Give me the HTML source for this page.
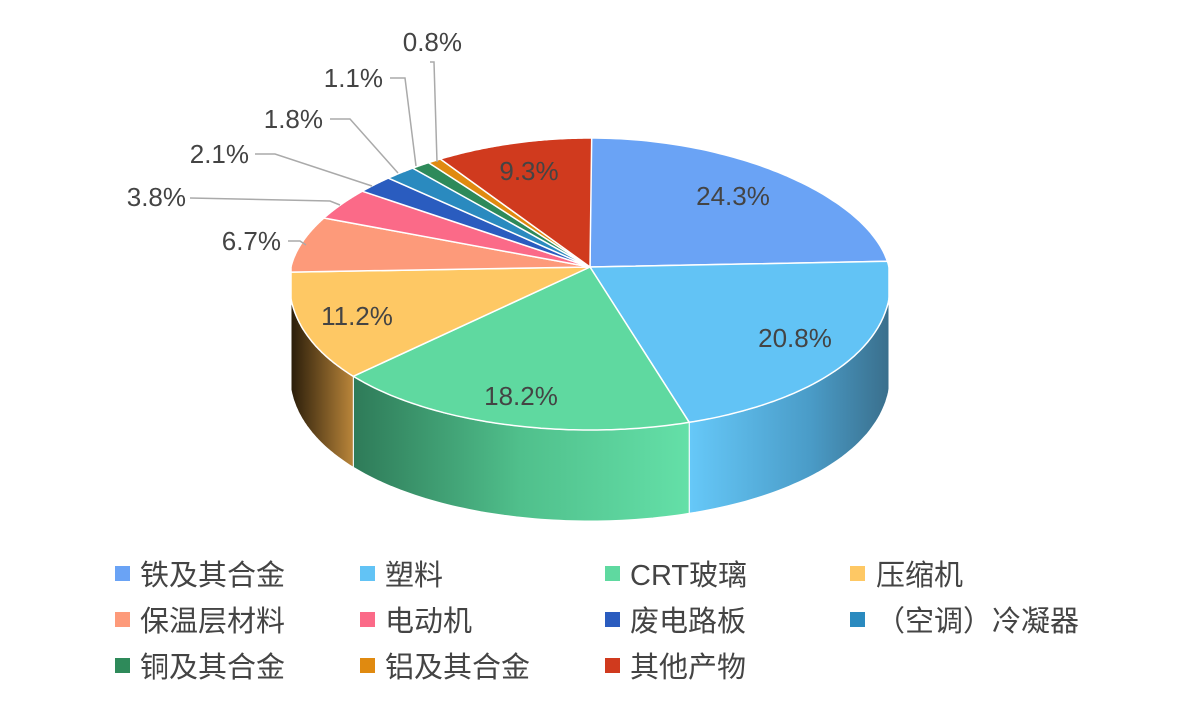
<!DOCTYPE html>
<html><head><meta charset="utf-8">
<style>
html,body{margin:0;padding:0;background:#fff;}
body{width:1182px;height:709px;overflow:hidden;font-family:"Liberation Sans","Noto Sans CJK SC",sans-serif;}
svg text{font-family:"Liberation Sans","Noto Sans CJK SC",sans-serif;}
</style></head><body>
<svg id="s" width="1182" height="709" viewBox="0 0 1182 709" xmlns="http://www.w3.org/2000/svg">
<defs>
<linearGradient id="gb" gradientUnits="userSpaceOnUse" x1="690" y1="0" x2="889" y2="0"><stop offset="0" stop-color="#66c8f8"/><stop offset="0.6" stop-color="#4a9cc8"/><stop offset="1" stop-color="#3a6f8c"/></linearGradient>
<linearGradient id="gg" gradientUnits="userSpaceOnUse" x1="352" y1="0" x2="690" y2="0"><stop offset="0" stop-color="#2e7a58"/><stop offset="0.5" stop-color="#50c08c"/><stop offset="1" stop-color="#64e0a8"/></linearGradient>
<linearGradient id="gy" gradientUnits="userSpaceOnUse" x1="291" y1="0" x2="356" y2="0"><stop offset="0" stop-color="#2a1d0a"/><stop offset="1" stop-color="#c08a3c"/></linearGradient>
</defs>
<g id="pie"></g>
<g fill="#444" font-size="26" text-anchor="middle">
<text x="733" y="205">24.3%</text>
<text x="795" y="347">20.8%</text>
<text x="521" y="405">18.2%</text>
<text x="357" y="325">11.2%</text>
<text x="529" y="180">9.3%</text>
</g>
<g fill="#444" font-size="26" text-anchor="end">
<text x="281" y="250">6.7%</text>
<text x="186" y="206">3.8%</text>
<text x="249" y="163">2.1%</text>
<text x="323" y="128">1.8%</text>
<text x="383" y="87">1.1%</text>
<text x="462" y="51">0.8%</text>
</g>
<g stroke="#aaa" stroke-width="1.5" fill="none">
<polyline points="288,241 300,241 306,245"/>
<polyline points="190,198 330,201 340,205"/>
<polyline points="255,154 275,154 372,186"/>
<polyline points="330,119 350,119 398,173"/>
<polyline points="390,78 405,78 416,166"/>
<polyline points="430,62 434,62 437,162"/>
</g>
<g font-size="29" fill="#444">
<rect x="115" y="566" width="15" height="15" fill="#6aa3f5"/><text x="140" y="585">铁及其合金</text>
<rect x="360" y="566" width="15" height="15" fill="#62c3f5"/><text x="385" y="585">塑料</text>
<rect x="605" y="566" width="15" height="15" fill="#5fd9a0"/><text x="630" y="585">CRT玻璃</text>
<rect x="850" y="566" width="15" height="15" fill="#fec864"/><text x="876" y="585">压缩机</text>
<rect x="115" y="612" width="15" height="15" fill="#fd9a7a"/><text x="140" y="631">保温层材料</text>
<rect x="360" y="612" width="15" height="15" fill="#fb6a88"/><text x="385" y="631">电动机</text>
<rect x="605" y="612" width="15" height="15" fill="#2a5cbf"/><text x="630" y="631">废电路板</text>
<rect x="850" y="612" width="15" height="15" fill="#2a8abf"/><text x="876" y="631">（空调）冷凝器</text>
<rect x="115" y="658" width="15" height="15" fill="#2e8a5a"/><text x="140" y="677">铜及其合金</text>
<rect x="360" y="658" width="15" height="15" fill="#e08a10"/><text x="385" y="677">铝及其合金</text>
<rect x="605" y="658" width="15" height="15" fill="#d03a1e"/><text x="630" y="677">其他产物</text>
</g>
</svg>
<script>
(function(){
var cx=590,cy=267,rx=299,ax=590,ay=267,D=91;
var pct=[24.3,20.8,18.2,11.2,6.7,3.8,2.1,1.8,1.1,0.8,9.3];
var col=["#6aa3f5","#62c3f5","#5fd9a0","#fec864","#fd9a7a","#fb6a88","#2a5cbf","#2a8abf","#2e8a5a","#e08a10","#d03a1e"];
var side=["#4a80c8","url(#gb)","url(#gg)","url(#gy)","#a0604a","#a04a5a","#1a3a80","#1a5a80","#1e5a3a","#905a08","#8a2614"];
function P(a,d){var c=Math.cos(a),s=Math.sin(a);var f=1-0.1*c;var y=c>0?cy-129*c:cy-163*c;var x=cx+rx*s*f;if(x<291)x=291;if(x>889)x=889;return [x,y+(d||0)];}
var g=document.getElementById('pie'),s='',t='',c=0,T=2*Math.PI;
for(var i=0;i<pct.length;i++){
 var a1=c/100*T,a2=(c+pct[i])/100*T;c+=pct[i];
 var b1=Math.max(a1,Math.PI/2),b2=Math.min(a2,1.5*Math.PI);
 if(b2>b1){
  var top=[],bot=[],n=60;
  for(var k=0;k<=n;k++){var a=b1+(b2-b1)*k/n;top.push(P(a));bot.unshift(P(a,D));}
  s+='<path d="M'+top.concat(bot).map(function(p){return p[0].toFixed(1)+','+p[1].toFixed(1)}).join('L')+'Z" fill="'+side[i]+'" stroke="#fff" stroke-width="1"/>';
 }
 var pts=[[ax,ay]];
 for(var k=0;k<=80;k++){pts.push(P(a1+(a2-a1)*k/80));}
 t+='<path d="M'+pts.map(function(p){return p[0].toFixed(1)+','+p[1].toFixed(1)}).join('L')+'Z" fill="'+col[i]+'" stroke="#fff" stroke-width="1.5"/>';
}
g.innerHTML=s+t;
})();
</script>
</body></html>
